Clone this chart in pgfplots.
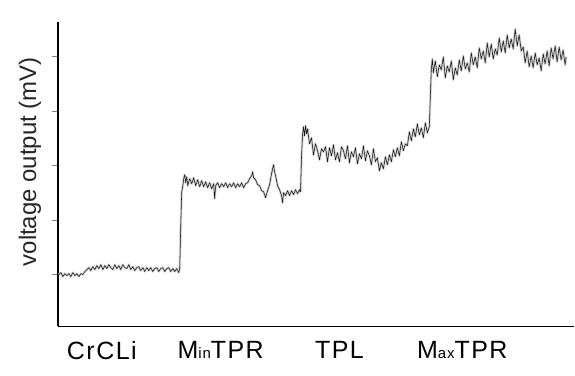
\documentclass[border=0pt]{standalone}
\usepackage{pgfplots}
\usepackage{pgfplotstable}
\pgfplotsset{compat=1.18}
\usepackage{fontspec}
\setmainfont{Liberation Sans}
\newfontfamily\labfont[LetterSpace=6]{Liberation Sans}
\pgfplotstableread{
x y
59 52
61 54
63 50
65 53
67 51
69 53
71 50
73 54
75 51
77 53
79 50
81 53
83 52
85 55
87 57
89 59
91 56
93 60
95 57
97 61
99 58
101 62
103 57
105 61
107 58
109 62
111 59
113 57
115 62
117 58
119 61
121 57
123 62
125 59
127 58
129 62
131 57
133 60
135 56
137 59
139 60
141 56
143 59
145 55
147 59
149 56
151 59
153 55
155 58
157 59
159 55
161 58
163 59
165 55
167 58
169 59
171 55
173 58
175 55
177 58
179 54
180 58
181 100
182 135
183 140
184 148
185 152
186 144
187 150
188 141
190 148
192 143
194 149
196 141
198 147
200 140
202 146
204 140
206 145
208 139
210 144
212 138
214 143
215 128
216 141
218 144
220 139
222 143
224 140
226 144
228 139
230 143
232 140
234 144
236 139
238 143
240 140
242 144
244 139
246 143
248 144
250 148
252 151
253 155
254 149
256 147
258 142
260 141
262 136
264 135
266 129
268 136
270 142
272 153
273 158
274 162
275 155
276 151
278 141
280 137
282 131
283 124
284 134
286 131
288 136
290 131
292 136
294 132
296 137
298 133
300 137
301 135
302 170
303 192
304 200
305 191
306 201
307 193
308 198
310 183
312 189
314 172
316 183
318 176
320 167
322 178
324 175
326 180
328 165
330 179
332 171
334 182
336 167
338 174
340 165
342 180
344 176
346 168
348 181
350 164
352 175
354 170
356 179
358 163
360 173
362 168
364 181
366 166
368 176
370 171
372 162
374 178
376 165
378 169
380 156
382 164
384 158
386 170
388 162
390 172
392 165
394 177
396 170
398 179
400 171
402 185
404 176
406 183
408 181
410 195
412 186
414 198
416 190
418 203
420 192
422 199
424 189
426 204
428 194
430 200
431 230
432 258
433 268
434 254
436 266
438 250
440 262
442 257
444 270
446 249
448 261
450 255
452 266
454 247
456 259
458 252
460 267
462 256
464 271
466 258
468 264
470 255
472 274
474 262
476 270
478 259
480 279
482 268
484 276
486 264
488 284
490 270
492 283
494 268
496 278
498 272
500 289
502 275
504 286
506 274
508 292
510 279
512 288
514 278
516 298
518 281
520 292
522 276
524 280
526 264
528 276
530 260
532 271
534 259
536 274
538 262
540 269
542 256
544 273
546 263
548 276
550 261
552 279
554 268
556 281
558 265
560 280
562 267
564 277
566 262
567 270
}\signal
\begin{document}
\begin{tikzpicture}[x=1pt,y=1pt]
\path (0,0) rectangle (575,376);
\begin{axis}[
  at={(58pt,49pt)}, anchor=south west,
  scale only axis, width=517pt, height=305pt,
  xmin=58, xmax=575, ymin=0, ymax=305,
  axis lines=left,
  axis line style={-, line width=1.8pt},
  ytick={52,106.5,161,215.5,270}, yticklabels={},
  tick align=outside, major tick length=6pt,
  ytick style={line width=1.1pt},
  xtick={102,221,340,463},
  xticklabels={CrCLi, M{\fontsize{15}{15}\selectfont in}TPR, TPL, M{\fontsize{15}{15}\selectfont ax}TPR},
  xtick style={draw=none},
  xticklabel style={font=\labfont\fontsize{25}{25}\selectfont, yshift=-5pt},
  ylabel={voltage output (mV)},
  ylabel style={at={(axis description cs:-0.054,0.541)}, anchor=center, font=\fontsize{24}{24}\selectfont, text=black!85},
  clip=false,
]
\addplot[gray!35, line width=2.4pt, line join=round] table[x=x,y=y] {\signal};
\addplot[black!90, line width=0.55pt, line join=round] table[x=x,y=y] {\signal};
\end{axis}
\end{tikzpicture}
\end{document}
